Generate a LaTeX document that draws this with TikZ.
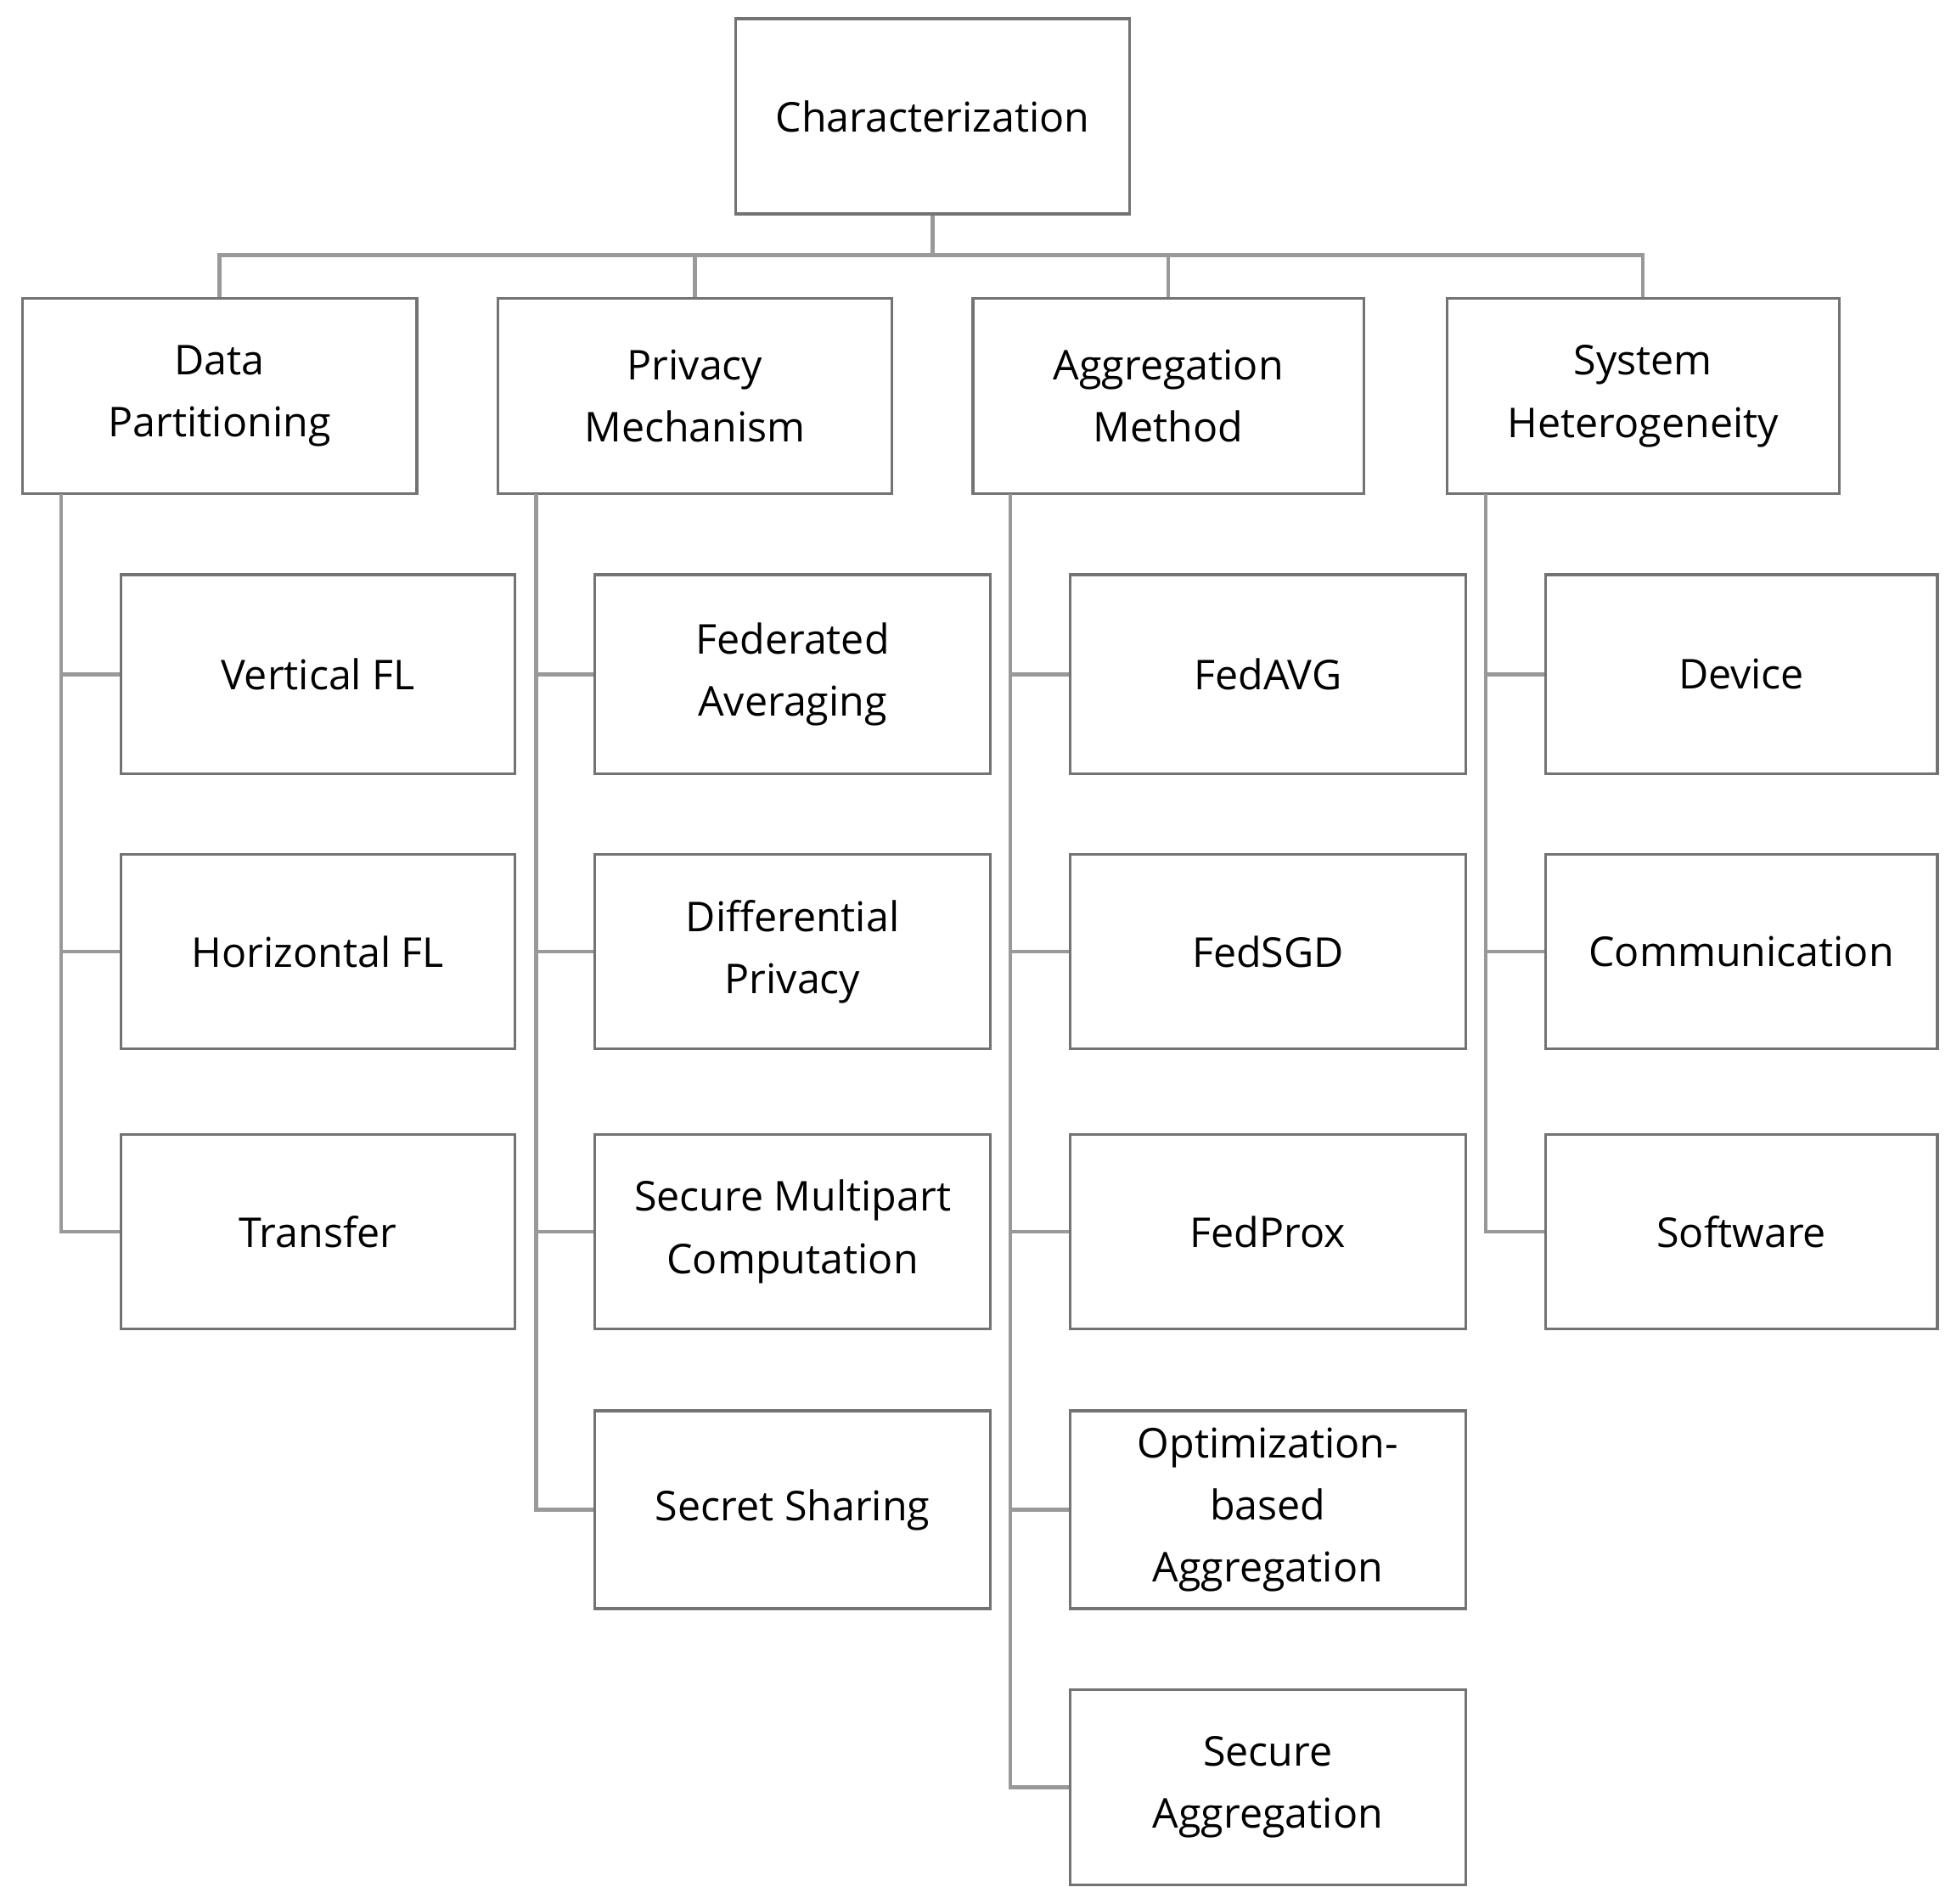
\documentclass[tikz,border=0pt]{standalone}
\usepackage{fontspec}
\setmainfont{Open Sans}
\begin{document}
\begin{tikzpicture}[x=1pt,y=-1pt,
  box/.style={draw=black!55,line width=2.2pt,fill=white,align=center,inner sep=0pt,font=\fontsize{33}{50}\selectfont},
  ln/.style={draw=black!40,line width=3pt}]
\useasboundingbox (0,0) rectangle (1568,1530);
\newcommand\bx[6]{\node[box,minimum width=#4-#2,minimum height=#5-#3] (#1) at ({(#2+#4)/2},{(#3+#5)/2}) {#6};}
\bx{top}{591}{15}{908}{172}{Characterization}
\bx{a}{18}{240}{335}{397}{Data\\Partitioning}
\bx{b}{400}{240}{717}{397}{Privacy\\Mechanism}
\bx{c}{782}{240}{1096}{397}{Aggregation\\Method}
\bx{d}{1163}{240}{1478}{397}{System\\Heterogeneity}
% children
\bx{a1}{97}{462}{414}{622}{Vertical FL}
\bx{a2}{97}{687}{414}{843}{Horizontal FL}
\bx{a3}{97}{912}{414}{1068}{Transfer}
\bx{b1}{478}{462}{796}{622}{Federated\\Averaging}
\bx{b2}{478}{687}{796}{843}{Differential\\Privacy}
\bx{b3}{478}{912}{796}{1068}{Secure Multipart\\Computation}
\bx{b4}{478}{1134}{796}{1293}{Secret Sharing}
\bx{c1}{860}{462}{1178}{622}{FedAVG}
\bx{c2}{860}{687}{1178}{843}{FedSGD}
\bx{c3}{860}{912}{1178}{1068}{FedProx}
\bx{c4}{860}{1134}{1178}{1293}{Optimization-\\based\\Aggregation}
\bx{c5}{860}{1358}{1178}{1515}{Secure\\Aggregation}
\bx{d1}{1242}{462}{1557}{622}{Device}
\bx{d2}{1242}{687}{1557}{843}{Communication}
\bx{d3}{1242}{912}{1557}{1068}{Software}
\coordinate (bus) at (748,205);
\begin{scope}[on background layer/.try]
\foreach \p in {a,b,c,d}{\draw[ln] (top.south) |- (bus) -| (\p.north);}
\foreach \p/\x/\cs in {a/49/{a1,a2,a3},b/431/{b1,b2,b3,b4},c/812/{c1,c2,c3,c4,c5},d/1194/{d1,d2,d3}}{
  \foreach \ch in \cs {\draw[ln] (\x,397) |- (\ch.west);}}
\end{scope}
\end{tikzpicture}
\end{document}
